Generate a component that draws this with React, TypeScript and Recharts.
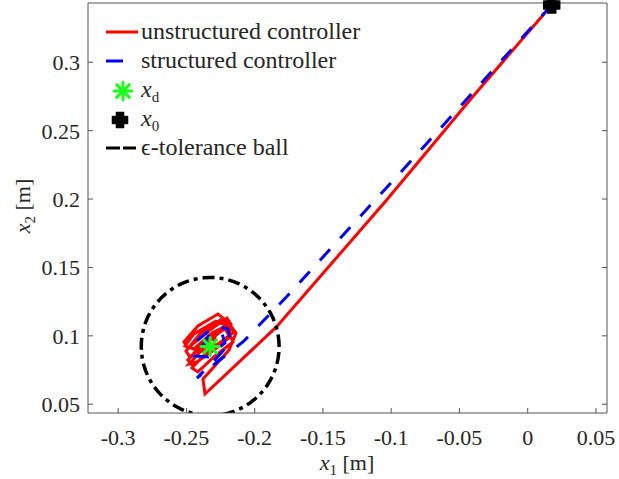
import React from 'react';
import { ComposedChart, Line, Scatter, XAxis, YAxis, Legend } from 'recharts';

// axis limits and ticks
const X_DOMAIN = [-0.3221, 0.0581];
const Y_DOMAIN = [0.0436, 0.3433];
const X_TICKS = [-0.3, -0.25, -0.2, -0.15, -0.1, -0.05, 0, 0.05];
const Y_TICKS = [0.05, 0.1, 0.15, 0.2, 0.25, 0.3];

// initial and desired state
const x0 = [{ x: 0.0176, y: 0.3419 }];
const xd = [{ x: -0.2326, y: 0.0922 }];
const EPS = 0.0505;

// unstructured controller trajectory
const unstructured = [
  { x: 0.0176, y: 0.3419 },
  { x: -0.0423, y: 0.2724 },
  { x: -0.1033, y: 0.1993 },
  { x: -0.1839, y: 0.1067 },
  { x: -0.2364, y: 0.0575 },
  { x: -0.2379, y: 0.0685 },
  { x: -0.2188, y: 0.0896 },
  { x: -0.2137, y: 0.1021 },
  { x: -0.2196, y: 0.1101 },
  { x: -0.2269, y: 0.116 },
  { x: -0.2416, y: 0.1072 },
  { x: -0.2518, y: 0.0955 },
  { x: -0.2489, y: 0.0911 },
  { x: -0.2328, y: 0.1043 },
  { x: -0.2203, y: 0.113 },
  { x: -0.2174, y: 0.1086 },
  { x: -0.2313, y: 0.0984 },
  { x: -0.2474, y: 0.0846 },
  { x: -0.2503, y: 0.0889 },
  { x: -0.2401, y: 0.1014 },
  { x: -0.224, y: 0.1123 },
  { x: -0.2152, y: 0.1028 },
  { x: -0.2298, y: 0.0918 },
  { x: -0.2452, y: 0.078 },
  { x: -0.2489, y: 0.0823 },
  { x: -0.2379, y: 0.0948 },
  { x: -0.221, y: 0.1072 },
  { x: -0.2159, y: 0.0955 },
  { x: -0.2291, y: 0.0853 },
  { x: -0.2416, y: 0.0736 },
  { x: -0.2459, y: 0.0765 },
  { x: -0.235, y: 0.0882 },
  { x: -0.2188, y: 0.1 },
  { x: -0.2181, y: 0.1065 },
  { x: -0.2284, y: 0.1108 },
  { x: -0.2445, y: 0.1014 },
  { x: -0.251, y: 0.0926 },
  { x: -0.2445, y: 0.0904 },
  { x: -0.2313, y: 0.1021 },
  { x: -0.2225, y: 0.1065 },
  { x: -0.2181, y: 0.0992 },
  { x: -0.2298, y: 0.0897 },
  { x: -0.2423, y: 0.0809 },
  { x: -0.2481, y: 0.0794 },
  { x: -0.24, y: 0.0882 },
  { x: -0.224, y: 0.0948 },
  { x: -0.2364, y: 0.0882 },
  { x: -0.2401, y: 0.0933 },
  { x: -0.2291, y: 0.0984 },
  { x: -0.2298, y: 0.0933 },
  { x: -0.2328, y: 0.0922 },
];

// structured controller trajectory
const structured = [
  { x: 0.0176, y: 0.3419 },
  { x: -0.0934, y: 0.2191 },
  { x: -0.1117, y: 0.1993 },
  { x: -0.1766, y: 0.1286 },
  { x: -0.2084, y: 0.0957 },
  { x: -0.2423, y: 0.0692 },
  { x: -0.2305, y: 0.0809 },
  { x: -0.2174, y: 0.0955 },
  { x: -0.2196, y: 0.105 },
  { x: -0.2291, y: 0.1072 },
  { x: -0.2416, y: 0.097 },
  { x: -0.2445, y: 0.0853 },
  { x: -0.2342, y: 0.0846 },
  { x: -0.2218, y: 0.0948 },
  { x: -0.224, y: 0.1021 },
  { x: -0.2328, y: 0.1014 },
  { x: -0.2379, y: 0.0933 },
  { x: -0.2313, y: 0.0904 },
  { x: -0.2326, y: 0.0922 },
];

// epsilon ball around x_d
const ball = Array.from({ length: 73 }, (_, i) => {
  const t = (i / 72) * 2 * Math.PI;
  return { x: xd[0].x + EPS * Math.cos(t), y: xd[0].y + EPS * Math.sin(t) };
});

const AXIS = '#555555';
const TXT = '#262626';
const FONT = '"Liberation Serif"';
const GREEN = '#1aff1a';

const fmt = (v: number) => String(v);

const BottomTick = ({ x, y, payload }: any) => (
  <g>
    <line x1={x} x2={x} y1={y} y2={y - 5} stroke={AXIS} />
    <text x={x} y={y + 32} textAnchor="middle" fontSize={22} style={{ fontFamily: FONT }} fill={TXT}>
      {fmt(payload.value)}
    </text>
  </g>
);

const LeftTick = ({ x, y, payload }: any) => (
  <g>
    <line x1={x} x2={x + 5} y1={y} y2={y} stroke={AXIS} />
    <text x={x - 8} y={y + 8} textAnchor="end" fontSize={22} style={{ fontFamily: FONT }} fill={TXT}>
      {fmt(payload.value)}
    </text>
  </g>
);

const TopTick = ({ x, y }: any) => <line x1={x} x2={x} y1={y} y2={y + 5} stroke={AXIS} />;
const RightTick = ({ x, y }: any) => <line x1={x} x2={x - 5} y1={y} y2={y} stroke={AXIS} />;

const Asterisk = ({ cx, cy, r = 9 }: any) => {
  const d = r * Math.SQRT1_2;
  return (
    <g stroke={GREEN} strokeWidth={3} strokeLinecap="round">
      <line x1={cx - r} x2={cx + r} y1={cy} y2={cy} />
      <line x1={cx} x2={cx} y1={cy - r} y2={cy + r} />
      <line x1={cx - d} x2={cx + d} y1={cy - d} y2={cy + d} />
      <line x1={cx - d} x2={cx + d} y1={cy + d} y2={cy - d} />
    </g>
  );
};

const Plus = ({ cx, cy, a = 8, w = 4 }: any) => (
  <path
    d={`M${cx - w},${cy - a} H${cx + w} V${cy - w} H${cx + a} V${cy + w} H${cx + w} V${cy + a} H${cx - w} V${cy + w} H${cx - a} V${cy - w} H${cx - w} Z`}
    fill="#000"
    stroke="#000"
    strokeWidth={1.5}
    strokeLinejoin="round"
  />
);

const Sub = ({ base, sub }: { base: string; sub: string }) => (
  <>
    <tspan fontStyle="italic">{base}</tspan>
    <tspan dy={5} fontSize={15}>{sub}</tspan>
  </>
);

const LegendBox = () => {
  const t = { fontSize: 24, fill: TXT, style: { fontFamily: FONT } };
  return (
    <svg width={619} height={180}>
      <line x1={106} x2={138} y1={32} y2={32} stroke="#ff0000" strokeWidth={3} />
      <text x={141} y={39} {...t}>unstructured controller</text>
      <line x1={106} x2={123} y1={61} y2={61} stroke="#0000ff" strokeWidth={3} />
      <text x={141} y={68} {...t}>structured controller</text>
      <Asterisk cx={123} cy={91} r={9} />
      <text x={141} y={97} {...t}><Sub base="x" sub="d" /></text>
      <Plus cx={120} cy={120} a={7.5} w={3.5} />
      <text x={141} y={126} {...t}><Sub base="x" sub="0" /></text>
      <line x1={106} x2={136} y1={148} y2={148} stroke="#000" strokeWidth={3} strokeDasharray="14 3" />
      <text x={141} y={155} {...t}>ϵ-tolerance ball</text>
    </svg>
  );
};

export default function App() {
  return (
    <div style={{ position: 'absolute', left: 0, top: 0, width: 619, height: 479, background: '#fff' }}>
      <ComposedChart width={619} height={479} margin={{ top: 2, right: 11, bottom: 26, left: 0 }}>
        <XAxis
          xAxisId="b"
          dataKey="x"
          type="number"
          domain={X_DOMAIN}
          ticks={X_TICKS}
          interval={0}
          height={40}
          stroke={AXIS}
          tickLine={false}
          tickSize={0}
          tickMargin={0}
          tick={<BottomTick />}
          label={{
            position: 'insideBottom',
            content: () => (
              <text x={347} y={470} textAnchor="middle" fontSize={22} style={{ fontFamily: FONT }} fill={TXT}>
                <Sub base="x" sub="1" />
                <tspan dy={-5}> [m]</tspan>
              </text>
            ),
          }}
        />
        <XAxis
          xAxisId="t"
          orientation="top"
          type="number"
          domain={X_DOMAIN}
          ticks={X_TICKS}
          interval={0}
          height={1}
          stroke={AXIS}
          tickLine={false}
          tickSize={0}
          tickMargin={0}
          tick={<TopTick />}
        />
        <YAxis
          yAxisId="l"
          dataKey="y"
          type="number"
          domain={Y_DOMAIN}
          ticks={Y_TICKS}
          interval={0}
          width={88}
          stroke={AXIS}
          tickLine={false}
          tickSize={0}
          tickMargin={0}
          tick={<LeftTick />}
          label={{
            position: 'insideLeft',
            content: () => (
              <text
                x={30}
                y={206}
                transform="rotate(-90 30 206)"
                textAnchor="middle"
                fontSize={22}
                style={{ fontFamily: FONT }}
                fill={TXT}
              >
                <Sub base="x" sub="2" />
                <tspan dy={-5}> [m]</tspan>
              </text>
            ),
          }}
        />
        <YAxis
          yAxisId="r"
          orientation="right"
          dataKey="y"
          type="number"
          domain={Y_DOMAIN}
          allowDataOverflow
          ticks={Y_TICKS}
          interval={0}
          width={1}
          stroke={AXIS}
          tickLine={false}
          tickSize={0}
          tickMargin={0}
          tick={<RightTick />}
        />
        <Legend
          layout="vertical"
          align="center"
          verticalAlign="middle"
          wrapperStyle={{ left: 0, top: 0, width: 619, height: 180, pointerEvents: 'none' }}
          content={() => <LegendBox />}
        />
        <Line
          xAxisId="b"
          yAxisId="l"
          data={unstructured}
          dataKey="y"
          type="linear"
          stroke="#ff0000"
          strokeWidth={3}
          dot={false}
          isAnimationActive={false}
        />
        <Line
          xAxisId="b"
          yAxisId="l"
          data={structured}
          dataKey="y"
          type="linear"
          stroke="#0000ff"
          strokeWidth={3}
          strokeDasharray="15 15"
          dot={false}
          isAnimationActive={false}
        />
        <Line
          xAxisId="b"
          yAxisId="r"
          data={ball}
          dataKey="y"
          type="linear"
          stroke="#000"
          strokeWidth={3.5}
          strokeDasharray="12 5 4 5"
          dot={false}
          isAnimationActive={false}
        />
        <Scatter
          xAxisId="b"
          yAxisId="l"
          data={xd}
          dataKey="y"
          shape={(p: any) => <Asterisk cx={p.cx} cy={p.cy} r={9} />}
          isAnimationActive={false}
        />
        <Scatter
          xAxisId="b"
          yAxisId="l"
          data={x0}
          dataKey="y"
          shape={(p: any) => <Plus cx={p.cx} cy={p.cy} />}
          isAnimationActive={false}
        />
      </ComposedChart>
    </div>
  );
}
